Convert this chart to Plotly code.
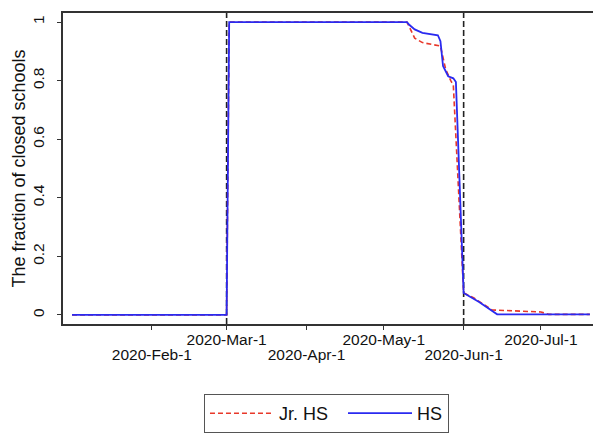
import plotly.graph_objects as go

# Share of schools closed, by school level (daily observations)
jrhs_dates = ["2020-01-01", "2020-03-01", "2020-03-02", "2020-05-10", "2020-05-13",
              "2020-05-16", "2020-05-23", "2020-05-25", "2020-05-27", "2020-05-28",
              "2020-06-01", "2020-06-05", "2020-06-12", "2020-07-01", "2020-07-04",
              "2020-07-20"]
jrhs_values = [0, 0, 1, 1, 0.945, 0.93, 0.918, 0.84, 0.80, 0.785,
               0.075, 0.058, 0.017, 0.010, 0.002, 0.002]

hs_dates = ["2020-01-01", "2020-03-01", "2020-03-02", "2020-05-10", "2020-05-11",
            "2020-05-13", "2020-05-16", "2020-05-22", "2020-05-23", "2020-05-24",
            "2020-05-26", "2020-05-28", "2020-05-29", "2020-06-01", "2020-06-07",
            "2020-06-14", "2020-07-20"]
hs_values = [0, 0, 1, 1, 0.99, 0.975, 0.963, 0.955, 0.935, 0.85,
             0.815, 0.808, 0.795, 0.075, 0.044, 0.002, 0.002]

# Reference dates marked with vertical dashed lines
event_dates = ["2020-03-01", "2020-06-01"]

# Monthly ticks, labels alternate between two rows
upper_ticks = ["2020-03-01", "2020-05-01", "2020-07-01"]
upper_labels = ["2020-Mar-1", "2020-May-1", "2020-Jul-1"]
lower_ticks = ["2020-02-01", "2020-04-01", "2020-06-01"]
lower_labels = ["2020-Feb-1", "2020-Apr-1", "2020-Jun-1"]
all_ticks = sorted(upper_ticks + lower_ticks)

y_ticks = [0, 0.2, 0.4, 0.6, 0.8, 1]
y_labels = ["0", "0.2", "0.4", "0.6", "0.8", "1"]

x_range = ["2019-12-28 12:00", "2020-07-21 05:00"]
font_family = "Liberation Sans, Arial, Helvetica, sans-serif"
pad = "\u00a0\u00a0"  # extra room after the first legend entry

fig = go.Figure()
fig.add_trace(go.Scatter(
    x=jrhs_dates, y=jrhs_values, mode="lines", name="Jr. HS" + pad,
    line=dict(color="#e8382a", width=1.6, dash="5px,3px"),
))
fig.add_trace(go.Scatter(
    x=hs_dates, y=hs_values, mode="lines", name="HS",
    line=dict(color="#2a2af0", width=1.8),
))
# carrier trace for the second row of date labels
fig.add_trace(go.Scatter(x=[], y=[], xaxis="x2", showlegend=False,
                         hoverinfo="skip"))

for d in event_dates:
    fig.add_shape(type="line", xref="x", yref="paper", x0=d, x1=d, y0=0, y1=1,
                  line=dict(color="#222222", width=1.6, dash="6px,3px"),
                  layer="below")

axis_color = "#333333"
fig.update_layout(
    width=593, height=433,
    margin=dict(l=63, r=0, t=13, b=109),
    paper_bgcolor="white", plot_bgcolor="white",
    font=dict(family=font_family, color="#111111", size=15.5),
    showlegend=True,
    legend=dict(
        orientation="h", x=0.266, xanchor="left", y=-0.225, yanchor="top",
        bordercolor="#555555", borderwidth=1, bgcolor="white",
        font=dict(size=18), traceorder="normal",
        itemwidth=64,
    ),
    xaxis=dict(
        type="date", range=x_range,
        tickvals=all_ticks,
        ticktext=[upper_labels[upper_ticks.index(t)] if t in upper_ticks else ""
                  for t in all_ticks],
        ticks="outside", ticklen=4, tickcolor=axis_color, tickwidth=1,
        showline=True, linecolor=axis_color, linewidth=1.5, mirror=True,
        showgrid=False, zeroline=False, tickfont=dict(size=15.5),
        ticklabelstandoff=-3,
    ),
    xaxis2=dict(
        type="date", range=x_range, overlaying="x", anchor="y", side="bottom",
        tickvals=lower_ticks, ticktext=lower_labels, ticks="",
        showline=False, showgrid=False, zeroline=False,
        tickfont=dict(size=15.5), ticklabelstandoff=19,
    ),
    yaxis=dict(
        range=[-0.031, 1.031], tickvals=y_ticks, ticktext=y_labels,
        tickangle=-90, ticks="outside", ticklen=4, tickcolor=axis_color,
        showline=True, linecolor=axis_color, linewidth=1.5,
        showgrid=False, zeroline=False, tickfont=dict(size=15.5),
        ticklabelstandoff=7,
        title=dict(text="The fraction of closed schools",
                   font=dict(size=18), standoff=0),
    ),
)

fig.write_html("out.html")
